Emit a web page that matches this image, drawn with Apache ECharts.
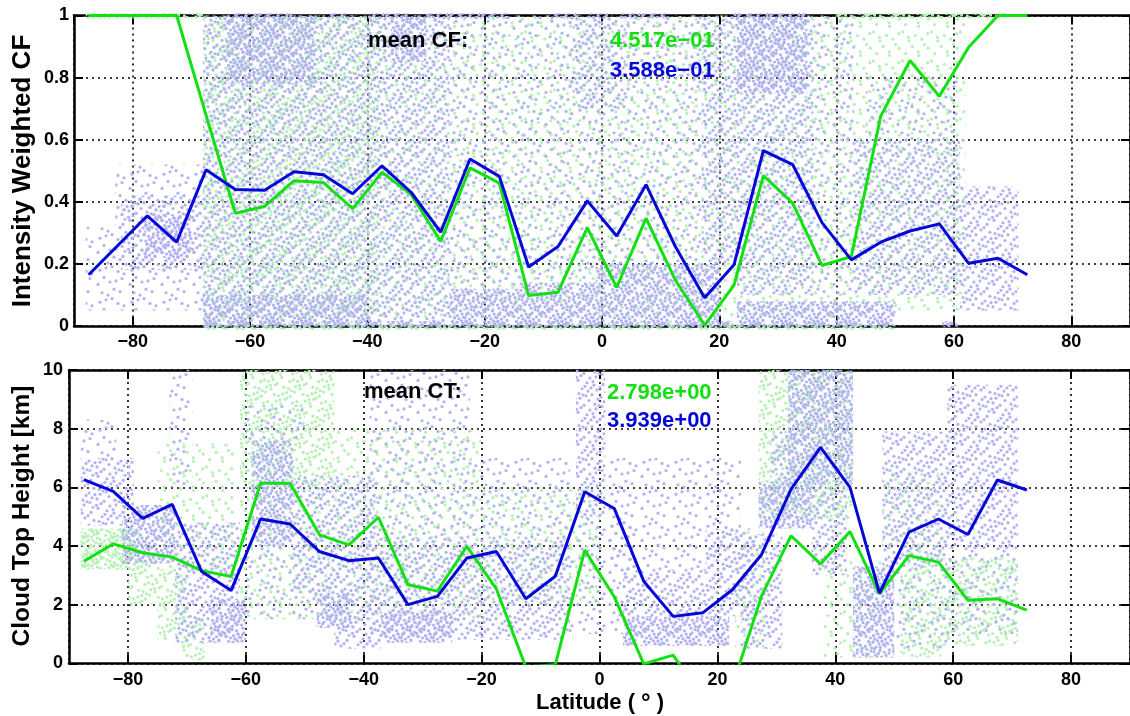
<!DOCTYPE html>
<html><head><meta charset="utf-8">
<script src="https://cdn.jsdelivr.net/npm/echarts@6/dist/echarts.min.js"></script>
<style>html,body{margin:0;padding:0;background:#fff}#c{width:1130px;height:716px}</style>
</head><body><div id="c"></div>
<script>
// ---------------- data ----------------
const latCenters = [-87.5,-82.5,-77.5,-72.5,-67.5,-62.5,-57.5,-52.5,-47.5,-42.5,-37.5,-32.5,-27.5,-22.5,-17.5,-12.5,-7.5,-2.5,2.5,7.5,12.5,17.5,22.5,27.5,32.5,37.5,42.5,47.5,52.5,57.5,62.5,67.5,72.5];
const cfGreen = [1,1,1,1,0.68,0.363,0.385,0.468,0.462,0.378,0.495,0.423,0.272,0.509,0.46,0.098,0.109,0.317,0.124,0.347,0.148,0.003,0.132,0.484,0.396,0.195,0.224,0.675,0.855,0.74,0.898,1.0,1.0];
const cfBlue  = [0.165,0.26,0.355,0.27,0.503,0.44,0.437,0.497,0.487,0.426,0.516,0.43,0.302,0.538,0.482,0.19,0.256,0.403,0.29,0.455,0.256,0.091,0.197,0.565,0.52,0.333,0.213,0.27,0.306,0.329,0.202,0.218,0.165];
const ctGreen = [3.48,4.07,3.77,3.62,3.16,2.96,6.14,6.14,4.38,4.04,4.98,2.68,2.46,3.99,2.54,-0.13,-0.05,3.86,2.27,-0.02,0.28,-1.16,-0.81,2.3,4.35,3.39,4.49,2.37,3.67,3.45,2.15,2.2,1.81];
const ctBlue  = [6.26,5.86,4.94,5.42,3.13,2.48,4.92,4.75,3.81,3.5,3.59,2.0,2.28,3.59,3.81,2.2,2.97,5.85,5.28,2.8,1.6,1.72,2.5,3.71,5.94,7.36,6.0,2.39,4.47,4.92,4.39,6.25,5.91];
const meanCF = [0.4517, 0.3588];   // green, blue
const meanCT = [2.798, 3.939];     // green, blue

// scatter-cloud density cells: [lat0, lat1, v0, v1, level 1..3]
const cfGreenCells = [
 [-68,-38,0.0,1.0,2],[-38,23,0.0,1.0,1],[23,42,0.0,1.0,1],[42,62,0.05,1.0,1],
 [-88,-68,0.99,1.007,3],[40,69,0.99,1.007,3],[-68,50,-0.012,0.004,3]
];
const cfBlueCells = [
 [-88,-83,0.05,0.32,1],[-83,-68,0.05,0.52,1],[-82,-68,0.18,0.42,2],[-78,-70,0.22,0.36,3],
 [-68,-40,0.0,1.0,2],[-64,-49,0.78,1.0,3],[-68,-40,0.0,0.1,3],
 [-40,-26,0.0,1.0,2],[-36,-30,0.85,1.0,3],
 [-26,-14,0.12,1.0,1],[-26,-14,0.0,0.12,3],
 [-14,-1,0.15,1.0,1],[-14,-1,0.0,0.14,3],
 [-5,4,0.7,1.0,2],[4,17,0.7,1.0,1],[-1,17,0.2,0.7,1],[-1,20,0.0,0.2,3],
 [17,23,0.2,1.0,2],[23,36,0.1,1.0,2],[23,35,0.75,1.0,3],[36,43,0.1,1.0,1],[23,50,0.0,0.08,3],
 [43,61,0.1,0.6,2],[45,61,0.6,0.8,1],[61,71,0.05,0.45,2],
 [-63.5,-52.8,0.99,1.007,3],[-47,-43.6,0.99,1.007,3],[-40,-33,0.99,1.007,3],[-30.6,-15.8,0.99,1.007,3],
 [-9,-4,0.99,1.007,3],[-2,1,0.99,1.007,3],[3.4,11.4,0.99,1.007,3],[22,34.7,0.99,1.007,3],
 [-68,49,-0.004,0.015,3],[58,61,-0.004,0.015,3]
];
const ctGreenCells = [
 [-88,-78,3.2,4.6,3],[-80,-75,2.0,4.0,2],[-75,-70,0.8,3.2,2],[-71,-67,0.1,1.6,2],[-75,-62,3.2,7.5,1],
 [-61,-45,6.0,10,2],[-61,-45,1.5,6.0,1],[-45,-20,1.5,8,1],[-20,0,2,6,1],
 [23,28,0.5,4.5,1],[27,43,4.9,10,2],[38,48,0.2,3.5,1],[51,58,0.2,3.9,2],[58,71,0.6,3.6,2],[48,58,3.9,6.5,1]
];
const ctBlueCells = [
 [-88,-79,4.7,7.0,2],[-88,-82,7.0,8.3,1],[-81,-72,3.4,5.4,3],[-73,-69,6.0,10,1],
 [-72,-61,0.7,4.8,2],[-66,-60,0.7,2.2,3],[-59,-52,4.0,7.6,3],[-60,-50,7.6,8.8,1],[-60,-45,1.5,4.0,1],
 [-48,-42,1.2,2.4,3],[-52,-38,2.4,6.4,2],[-45,-37,0.5,2.4,2],
 [-39,-22,0.8,4.3,2],[-37,-25,0.7,1.8,3],[-39,-22,4.3,10,1],
 [-22,-5,0.8,4.2,2],[-22,-5,4.2,7,1],[-4,1,5,10,2],[-5,6,1,5,1],
 [4,22,0.6,1.6,3],[4,18,1.6,3.2,2],[1,24,3.2,7,1],[18,26,1.6,4.6,2],
 [24,31,0.5,4.4,2],[27,36,4.6,6.2,3],[32,43,6.1,10,3],[29,33,6.2,7.9,2],[36,42,3,6.1,2],
 [43,50,0.2,3.3,3],[48,59,3.3,7.9,2],[50,59,0.5,3.3,1],[59,71,3.9,9.5,2],[59,71,1,3.9,1]
];

// ---------------- styling helpers ----------------
const FONT = '"Liberation Sans", Arial, Helvetica, sans-serif';
const GREEN = '#12e012', BLUE = '#0606d6';
const GREEN_DOT = '#b6f2b6', BLUE_DOT = '#b2b2f4';

function halton(i, b) { let f = 1, r = 0; while (i > 0) { f /= b; r += f * (i % b); i = Math.floor(i / b); } return r; }
function tile(color, n, off, s, bx, by) {
  const cv = document.createElement('canvas'); cv.width = cv.height = s;
  const g = cv.getContext('2d'); g.fillStyle = color;
  for (let i = 1; i <= n; i++) {
    const x = halton(i + off, bx) * s, y = halton(i + off, by) * s;
    for (const dx of [-s, 0, s]) for (const dy of [-s, 0, s]) {
      g.beginPath(); g.arc(x + dx, y + dy, 1.6, 0, Math.PI * 2); g.fill();
    }
  }
  return cv;
}
const levelCounts = [0, 14, 32, 62];
const greenTiles = levelCounts.map(n => tile(GREEN_DOT, Math.round(n * 0.85), 400, 29, 3, 2));
const blueTiles = levelCounts.map(n => tile(BLUE_DOT, n, 0, 32, 2, 3));

function cellSeries(cells, gi, tiles) {
  return {
    type: 'custom', xAxisIndex: gi * 2, yAxisIndex: gi * 2, z: 1, silent: true, clip: false,
    data: cells, encode: { x: [0, 1], y: [2, 3] },
    renderItem: (p, api) => {
      const a = api.coord([api.value(0), api.value(3)]);
      const b = api.coord([api.value(1), api.value(2)]);
      return { type: 'rect', shape: { x: a[0], y: a[1], width: b[0] - a[0], height: b[1] - a[1] },
        style: { fill: { image: tiles[api.value(4)], repeat: 'repeat' } } };
    }
  };
}
function lineSeries(vals, gi, color) {
  return { type: 'line', xAxisIndex: gi * 2, yAxisIndex: gi * 2, z: 4, silent: true,
    symbol: 'none', clip: true, data: latCenters.map((l, i) => [l, vals[i]]),
    lineStyle: { color: color, width: 3 } };
}
const minus = v => (v < 0 ? '\u2212' : '') + Math.abs(v);
function fmtExp(v) {
  const [m, e] = v.toExponential(3).split('e'); const n = parseInt(e, 10);
  return m + 'e' + (n < 0 ? '\u2212' : '+') + String(Math.abs(n)).padStart(2, '0');
}
const axLine = { show: true, onZero: false, lineStyle: { color: '#000', width: 2.5 } };
const tick = { show: true, inside: true, length: 9, lineStyle: { color: '#000', width: 2 } };
const split = { show: true, lineStyle: { color: '#000', width: 1.6, type: [2, 4] } };
const lab = { fontFamily: FONT, fontWeight: 'bold', fontSize: 18, color: '#000' };

function xAxes(gi, margin) {
  const base = { type: 'value', gridIndex: gi, min: -90, max: 90, splitNumber: 9, minInterval: 20, maxInterval: 20 };
  return [
    Object.assign({}, base, { position: 'bottom', axisLine: axLine, axisTick: tick, splitLine: split,
      axisLabel: Object.assign({}, lab, { margin: margin, formatter: minus, showMinLabel: false, showMaxLabel: false }) }),
    Object.assign({}, base, { position: 'top', axisLine: axLine, axisTick: tick, splitLine: { show: false }, axisLabel: { show: false } })
  ];
}
function yAxes(gi, max, interval, margin) {
  const base = { type: 'value', gridIndex: gi, min: 0, max: max, interval: interval };
  return [
    Object.assign({}, base, { position: 'left', axisLine: axLine, axisTick: tick, splitLine: split,
      axisLabel: Object.assign({}, lab, { margin: margin }) }),
    Object.assign({}, base, { position: 'right', axisLine: axLine, axisTick: tick, splitLine: { show: false }, axisLabel: { show: false } })
  ];
}
function txt(x, y, text, size, color, rot, align) {
  return { type: 'text', x: x, y: y, rotation: rot || 0, z: 10, silent: true,
    style: { text: text, fill: color, fontFamily: FONT, fontWeight: 'bold', fontSize: size,
      align: align || 'left', verticalAlign: 'middle' } };
}

const chart = echarts.init(document.getElementById('c'), null, { renderer: 'canvas' });
chart.setOption({
  animation: false,
  backgroundColor: '#fff',
  grid: [
    { left: 74, top: 15.5, width: 1058, height: 310.5 },
    { left: 69, top: 370, width: 1061, height: 293.3 }
  ],
  xAxis: [...xAxes(0, 7), ...xAxes(1, 8)],
  yAxis: [...yAxes(0, 1, 0.2, 5), ...yAxes(1, 10, 2, 6)],
  series: [
    cellSeries(cfGreenCells, 0, greenTiles),
    cellSeries(cfBlueCells, 0, blueTiles),
    lineSeries(cfGreen, 0, GREEN),
    lineSeries(cfBlue, 0, BLUE),
    cellSeries(ctGreenCells, 1, greenTiles),
    cellSeries(ctBlueCells, 1, blueTiles),
    lineSeries(ctGreen, 1, GREEN),
    lineSeries(ctBlue, 1, BLUE)
  ],
  graphic: { elements: [
    txt(22.5, 171, 'Intensity Weighted CF', 26, '#000', Math.PI / 2, 'center'),
    txt(22.5, 516, 'Cloud Top Height [km]', 24.5, '#000', Math.PI / 2, 'center'),
    { type: 'text', x: 600, y: 703, z: 10, silent: true,
      style: { text: '{a|Latitude (}{b|°}{a|)}', align: 'center', verticalAlign: 'middle',
        rich: { a: { fontFamily: FONT, fontWeight: 'bold', fontSize: 22, fill: '#000' },
                b: { fontFamily: FONT, fontWeight: 'bold', fontSize: 24, fill: '#000', padding: [0, 6, 0, 6] } } } },
    txt(368, 41, 'mean CF:', 22, '#000'),
    txt(610, 41, fmtExp(meanCF[0]), 22, GREEN),
    txt(610, 71, fmtExp(meanCF[1]), 22, BLUE),
    txt(364, 392, 'mean CT:', 22, '#000'),
    txt(607, 393, fmtExp(meanCT[0]), 22, GREEN),
    txt(607, 421, fmtExp(meanCT[1]), 22, BLUE)
  ] }
});
</script></body></html>
